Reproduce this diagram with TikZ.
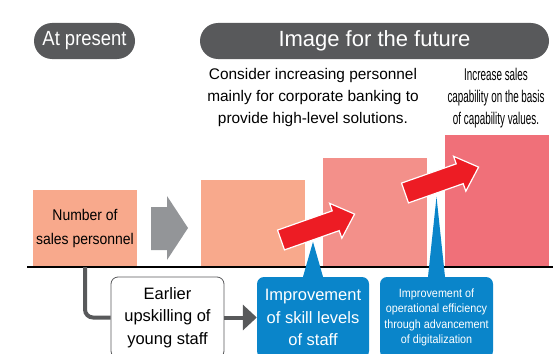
\documentclass[tikz,border=0pt]{standalone}
\usepackage{fontspec}
\setmainfont{Liberation Sans}
\newfontfamily\etroit[FakeStretch=0.58]{Liberation Sans}
\newfontfamily\serre[FakeStretch=0.9]{Liberation Sans}
\usetikzlibrary{arrows.meta}
\definecolor{gristitre}{HTML}{58595B}
\definecolor{grisfleche}{HTML}{939598}
\definecolor{saumon}{HTML}{F8A98C}
\definecolor{saumonfonce}{HTML}{F3908A}
\definecolor{rose}{HTML}{F07079}
\definecolor{rouge}{HTML}{ED1C24}
\definecolor{bleu}{HTML}{0A85CA}
\tikzset{
  pastille/.style={fill=gristitre, text=white, rounded corners=18pt, minimum height=36pt, inner sep=0pt},
  barre/.style={anchor=south, minimum width=104pt, inner sep=0pt, align=center},
  bulle/.style={fill=bleu, text=white, rounded corners=7pt, minimum width=112pt, minimum height=81pt, inner sep=0pt, align=center},
  liaison/.style={draw=gristitre, line width=4pt},
}
\begin{document}
\begin{tikzpicture}[x=1pt, y=-1pt]
	\clip (0,0) rectangle (553,353);
	%les titres
	\node[pastille, minimum width=101pt, font=\serre\fontsize{20.5}{20.5}\selectfont] (present) at (84.5,41) {At present};
	\node[pastille, minimum width=349pt, font=\fontsize{22}{22}\selectfont] (futur) at (374.5,41) {Image for the future};
	\node[align=center, font=\fontsize{15.4}{22}\selectfont] (entreprise) at (313,98) {Consider increasing personnel\\mainly for corporate banking to\\provide high-level solutions.};
	\node[align=center, font=\etroit\fontsize{17}{22.3}\selectfont] (capacite) at (496,98) {Increase sales\\capability on the basis\\of capability values.};
	%les barres
	\node[barre, fill=saumon, minimum height=77pt, font=\serre\fontsize{15.5}{24}\selectfont] (nb1) at (85,267) {Number of\\sales personnel};
	\node[barre, fill=saumon, minimum height=87pt] (nb2) at (253,267) {};
	\node[barre, fill=saumonfonce, minimum height=109pt] (nb3) at (375,267) {};
	\node[barre, fill=rose, minimum height=132pt] (nb4) at (497,267) {};
	\draw[line width=1.2pt] (27,267) -- (553,267);
	%la grosse fleche grise
	\fill[grisfleche] (151,207) -- (167,207) -- (167,196) -- (188,228) -- (167,260) -- (167,250) -- (151,250) -- cycle;
	%les bulles
	\node[fill=white, draw=gristitre, line width=0.8pt, rounded corners=7pt, minimum width=113pt, minimum height=81pt, inner sep=0pt, align=center, font=\fontsize{16.5}{22.5}\selectfont] (jeunes) at (167.5,317.5) {Earlier\\upskilling of\\young staff};
	\node[bulle, font=\fontsize{16.5}{22.5}\selectfont] (competences) at (313,317.5) {Improvement\\of skill levels\\of staff};
	\node[bulle, minimum width=113pt, font=\serre\fontsize{12}{15.3}\selectfont] (digital) at (436.5,317.5) {Improvement of\\operational efficiency\\through advancement\\of digitalization};
	\fill[bleu] ([xshift=-10pt]competences.north) -- ([yshift=35pt]competences.north) -- ([xshift=10pt]competences.north) -- cycle;
	\fill[bleu] ([xshift=-8.5pt]digital.north) -- ([yshift=80pt]digital.north) -- ([xshift=8.5pt]digital.north) -- cycle;
	%les liaisons
	\draw[liaison, rounded corners=8pt] (nb1.south) |- (jeunes.west);
	\draw[liaison, -{Triangle[length=14pt, width=25pt]}] (jeunes.east) -- (competences.west);
	%les fleches rouges
	\foreach \p in {(281,240),(405,193)}
		\filldraw[fill=rouge, draw=white, line width=1.2pt, shift={\p}, rotate=19.4]
			(0,-10.5) -- (58,-10.5) -- (58,-18.5) -- (78,0) -- (58,18.5) -- (58,10.5) -- (0,10.5) -- cycle;
\end{tikzpicture}
\end{document}
